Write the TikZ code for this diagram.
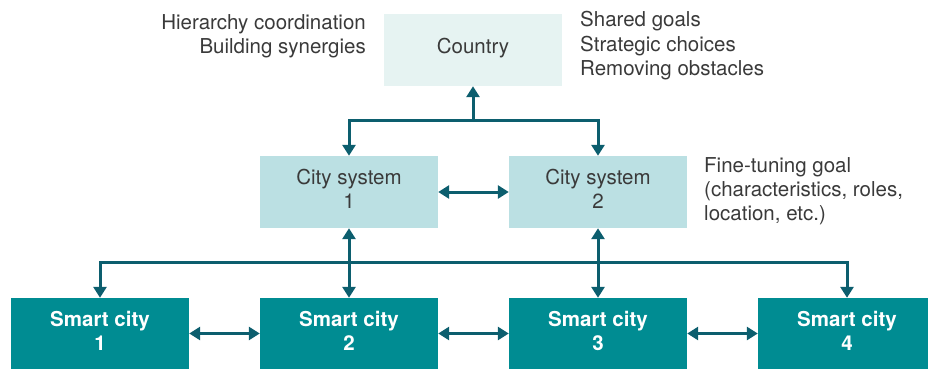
\documentclass[tikz,border=0pt]{standalone}
\usepackage{fontspec}
\setmainfont{TeX Gyre Heros}
\usetikzlibrary{arrows.meta}
\definecolor{arrowc}{HTML}{0C5E6E}
\definecolor{scfill}{HTML}{008C92}
\definecolor{csfill}{HTML}{BBE0E3}
\definecolor{cofill}{HTML}{E6F3F2}
\definecolor{txt}{HTML}{3A3A3A}
\tikzset{
  basebox/.style={minimum width=178pt, minimum height=72pt, inner sep=0pt},
  boxtext/.style={inner sep=0pt, align=center, yshift=3pt, font=\fontsize{20.5}{24}\selectfont},
  countrybox/.style={basebox, fill=cofill},
  citysys/.style={basebox, fill=csfill},
  smartcity/.style={basebox, minimum height=71pt, fill=scfill},
  darktext/.style={boxtext, text=txt},
  whitetext/.style={boxtext, text=white, font=\fontsize{20.5}{24}\selectfont\bfseries},
  note/.style={inner sep=0pt, text=txt, font=\fontsize{20.5}{24}\selectfont},
  conn/.style={draw=arrowc, line width=3pt},
  onehead/.style={conn, -{Triangle[width=13pt,length=11pt]}},
  twohead/.style={conn, {Triangle[width=13pt,length=11pt]}-{Triangle[width=13pt,length=11pt]}}
}
\begin{document}
\begin{tikzpicture}[x=1pt,y=-1pt]
\useasboundingbox (0,0) rectangle (928,372);
% boxes
\node[countrybox, label={[darktext, yshift=-1pt]center:Country}] (country) at (473,50) {};
\node[citysys, label={[darktext]center:City system\\1}] (cs1) at (349,192) {};
\node[citysys, label={[darktext]center:City system\\2}] (cs2) at (598,192) {};
\node[smartcity, label={[whitetext]center:Smart city\\1}] (sc1) at (100,333.5) {};
\node[smartcity, label={[whitetext]center:Smart city\\2}] (sc2) at (349,333.5) {};
\node[smartcity, label={[whitetext]center:Smart city\\3}] (sc3) at (598,333.5) {};
\node[smartcity, label={[whitetext]center:Smart city\\4}] (sc4) at (847,333.5) {};
% notes
\node[note, anchor=base east] (h1) at (366,29) {Hierarchy coordination};
\node[note, anchor=base east] (h2) at (366,53) {Building synergies};
\node[note, anchor=base west] (g1) at (580,27) {Shared goals};
\node[note, anchor=base west] (g2) at (580,51) {Strategic choices};
\node[note, anchor=base west] (g3) at (580,75) {Removing obstacles};
\node[note, anchor=base west] (f1) at (704,172) {Fine-tuning goal};
\node[note, anchor=base west] (f2) at (704,196) {(characteristics, roles,};
\node[note, anchor=base west] (f3) at (704,220) {location, etc.)};
% connectors
\coordinate (top) at (473,120);
\coordinate (hl) at (473,262);
\draw[onehead] (top) -- (country.south);
\draw[twohead] (cs1.north) |- (top) -| (cs2.north);
\draw[twohead] (cs1.east) -- (cs2.west);
\draw[twohead] (cs1.south) -- (sc2.north);
\draw[twohead] (cs2.south) -- (sc3.north);
\draw[twohead] (sc1.north) |- (hl) -| (sc4.north);
\draw[twohead] (sc1.east) -- (sc2.west);
\draw[twohead] (sc2.east) -- (sc3.west);
\draw[twohead] (sc3.east) -- (sc4.west);
\end{tikzpicture}
\end{document}
